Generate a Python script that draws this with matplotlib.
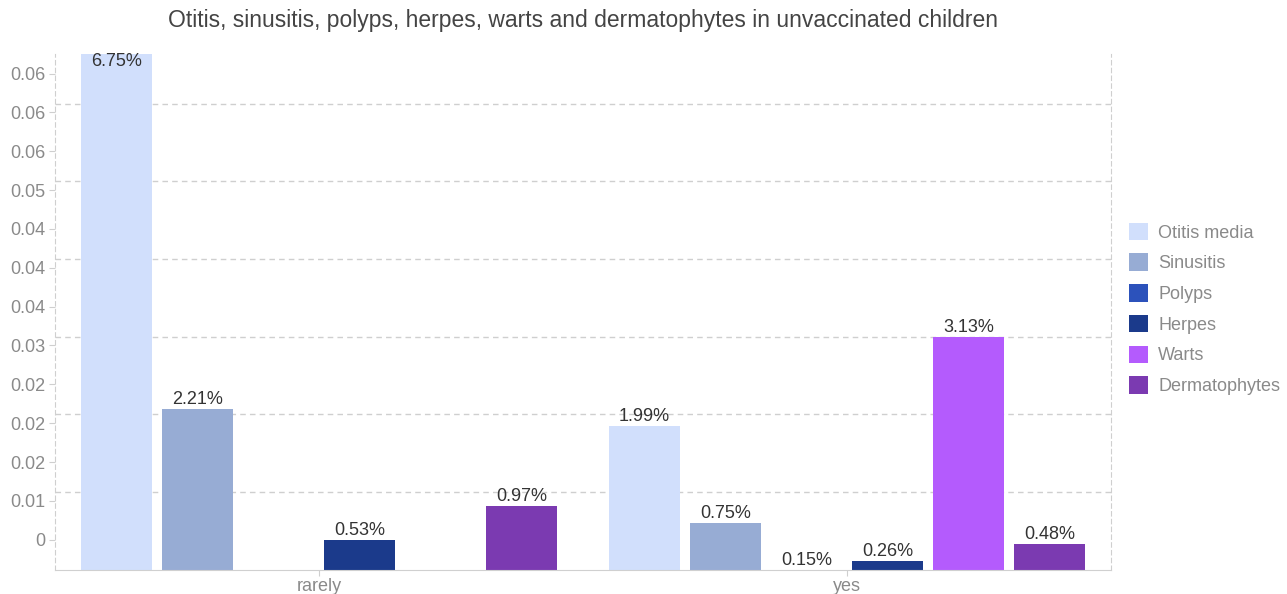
import numpy as np
import matplotlib
matplotlib.use("Agg")
import matplotlib.pyplot as plt

plt.rcParams["font.family"] = ["Liberation Sans", "DejaVu Sans"]

# data
title = "Otitis, sinusitis, polyps, herpes, warts and dermatophytes in unvaccinated children"
groups = ["rarely", "yes"]
series = ["Otitis media", "Sinusitis", "Polyps", "Herpes", "Warts", "Dermatophytes"]
values = {
    "Otitis media":  [0.0675, 0.0199],
    "Sinusitis":     [0.0221, 0.0075],
    "Polyps":        [np.nan, 0.0015],
    "Herpes":        [0.0053, 0.0026],
    "Warts":         [np.nan, 0.0313],
    "Dermatophytes": [0.0097, 0.0048],
}
colors = ["#d1dffc", "#97acd4", "#2c52bb", "#1b3a8b", "#b45bfd", "#7b3ab1"]
ytick_labels = ["0", "0.01", "0.02", "0.02", "0.02", "0.03", "0.04",
                "0.04", "0.04", "0.05", "0.06", "0.06", "0.06"]

fig = plt.figure(figsize=(12.87, 5.94), dpi=100)
ax = fig.add_axes([55 / 1287, 1 - 570 / 594, (1111 - 55) / 1287, (570 - 54) / 594])

x = np.arange(len(groups))
step = 0.1534
width = 0.134
ymin, ymax = 0.0015, 0.0675

for i, (name, c) in enumerate(zip(series, colors)):
    vals = np.array(values[name], dtype=float)
    pos = x + (i - 2.5) * step
    ax.bar(pos, vals, width=width, bottom=0, color=c, label=name, zorder=2)
    for px, v in zip(pos, vals):
        if np.isnan(v):
            continue
        if v >= ymax:
            ax.annotate(f"{v * 100:.2f}%", (px, v), xytext=(0, 0.5), textcoords="offset points",
                        ha="center", va="top", fontsize=13, color="#333333", zorder=3)
        else:
            ax.annotate(f"{v * 100:.2f}%", (px, max(v, ymin)), xytext=(0, 1), textcoords="offset points",
                        ha="center", va="bottom", fontsize=13, color="#333333", zorder=3)

ax.set_ylim(ymin, ymax)
ax.set_xlim(-0.5, 1.5)

ax.set_yticks(np.linspace(0.00537, 0.0650, len(ytick_labels)))
ax.set_yticklabels(ytick_labels)
for gy in 0.0115 + 0.00993 * np.arange(6):
    ax.axhline(gy, color="#cfcfcf", lw=1, ls=(0, (4, 3)), zorder=1)

ax.set_xticks(x)
ax.set_xticklabels(groups)

ax.tick_params(axis="y", colors="#cfcfcf", labelcolor="#8a8a8a", labelsize=13, length=4, pad=3)
ax.tick_params(axis="x", colors="#cfcfcf", labelcolor="#8a8a8a", labelsize=13, length=4, pad=2)

for side in ["left", "right"]:
    ax.spines[side].set_linestyle((0, (4, 3)))
    ax.spines[side].set_color("#cfcfcf")
ax.spines["top"].set_visible(False)
ax.spines["bottom"].set_color("#d0d0d0")

fig.text(583 / 1287, 1 - 21 / 594, title, ha="center", va="center", fontsize=16.5, color="#444444")

leg = ax.legend(loc="upper left", bbox_to_anchor=(1.0098, 0.687), frameon=False, fontsize=13,
                handlelength=1.1, handleheight=1.1, handletextpad=0.55, labelspacing=0.66,
                borderaxespad=0)
for t in leg.get_texts():
    t.set_color("#8a8a8a")

fig.savefig("out.png", dpi=100)
